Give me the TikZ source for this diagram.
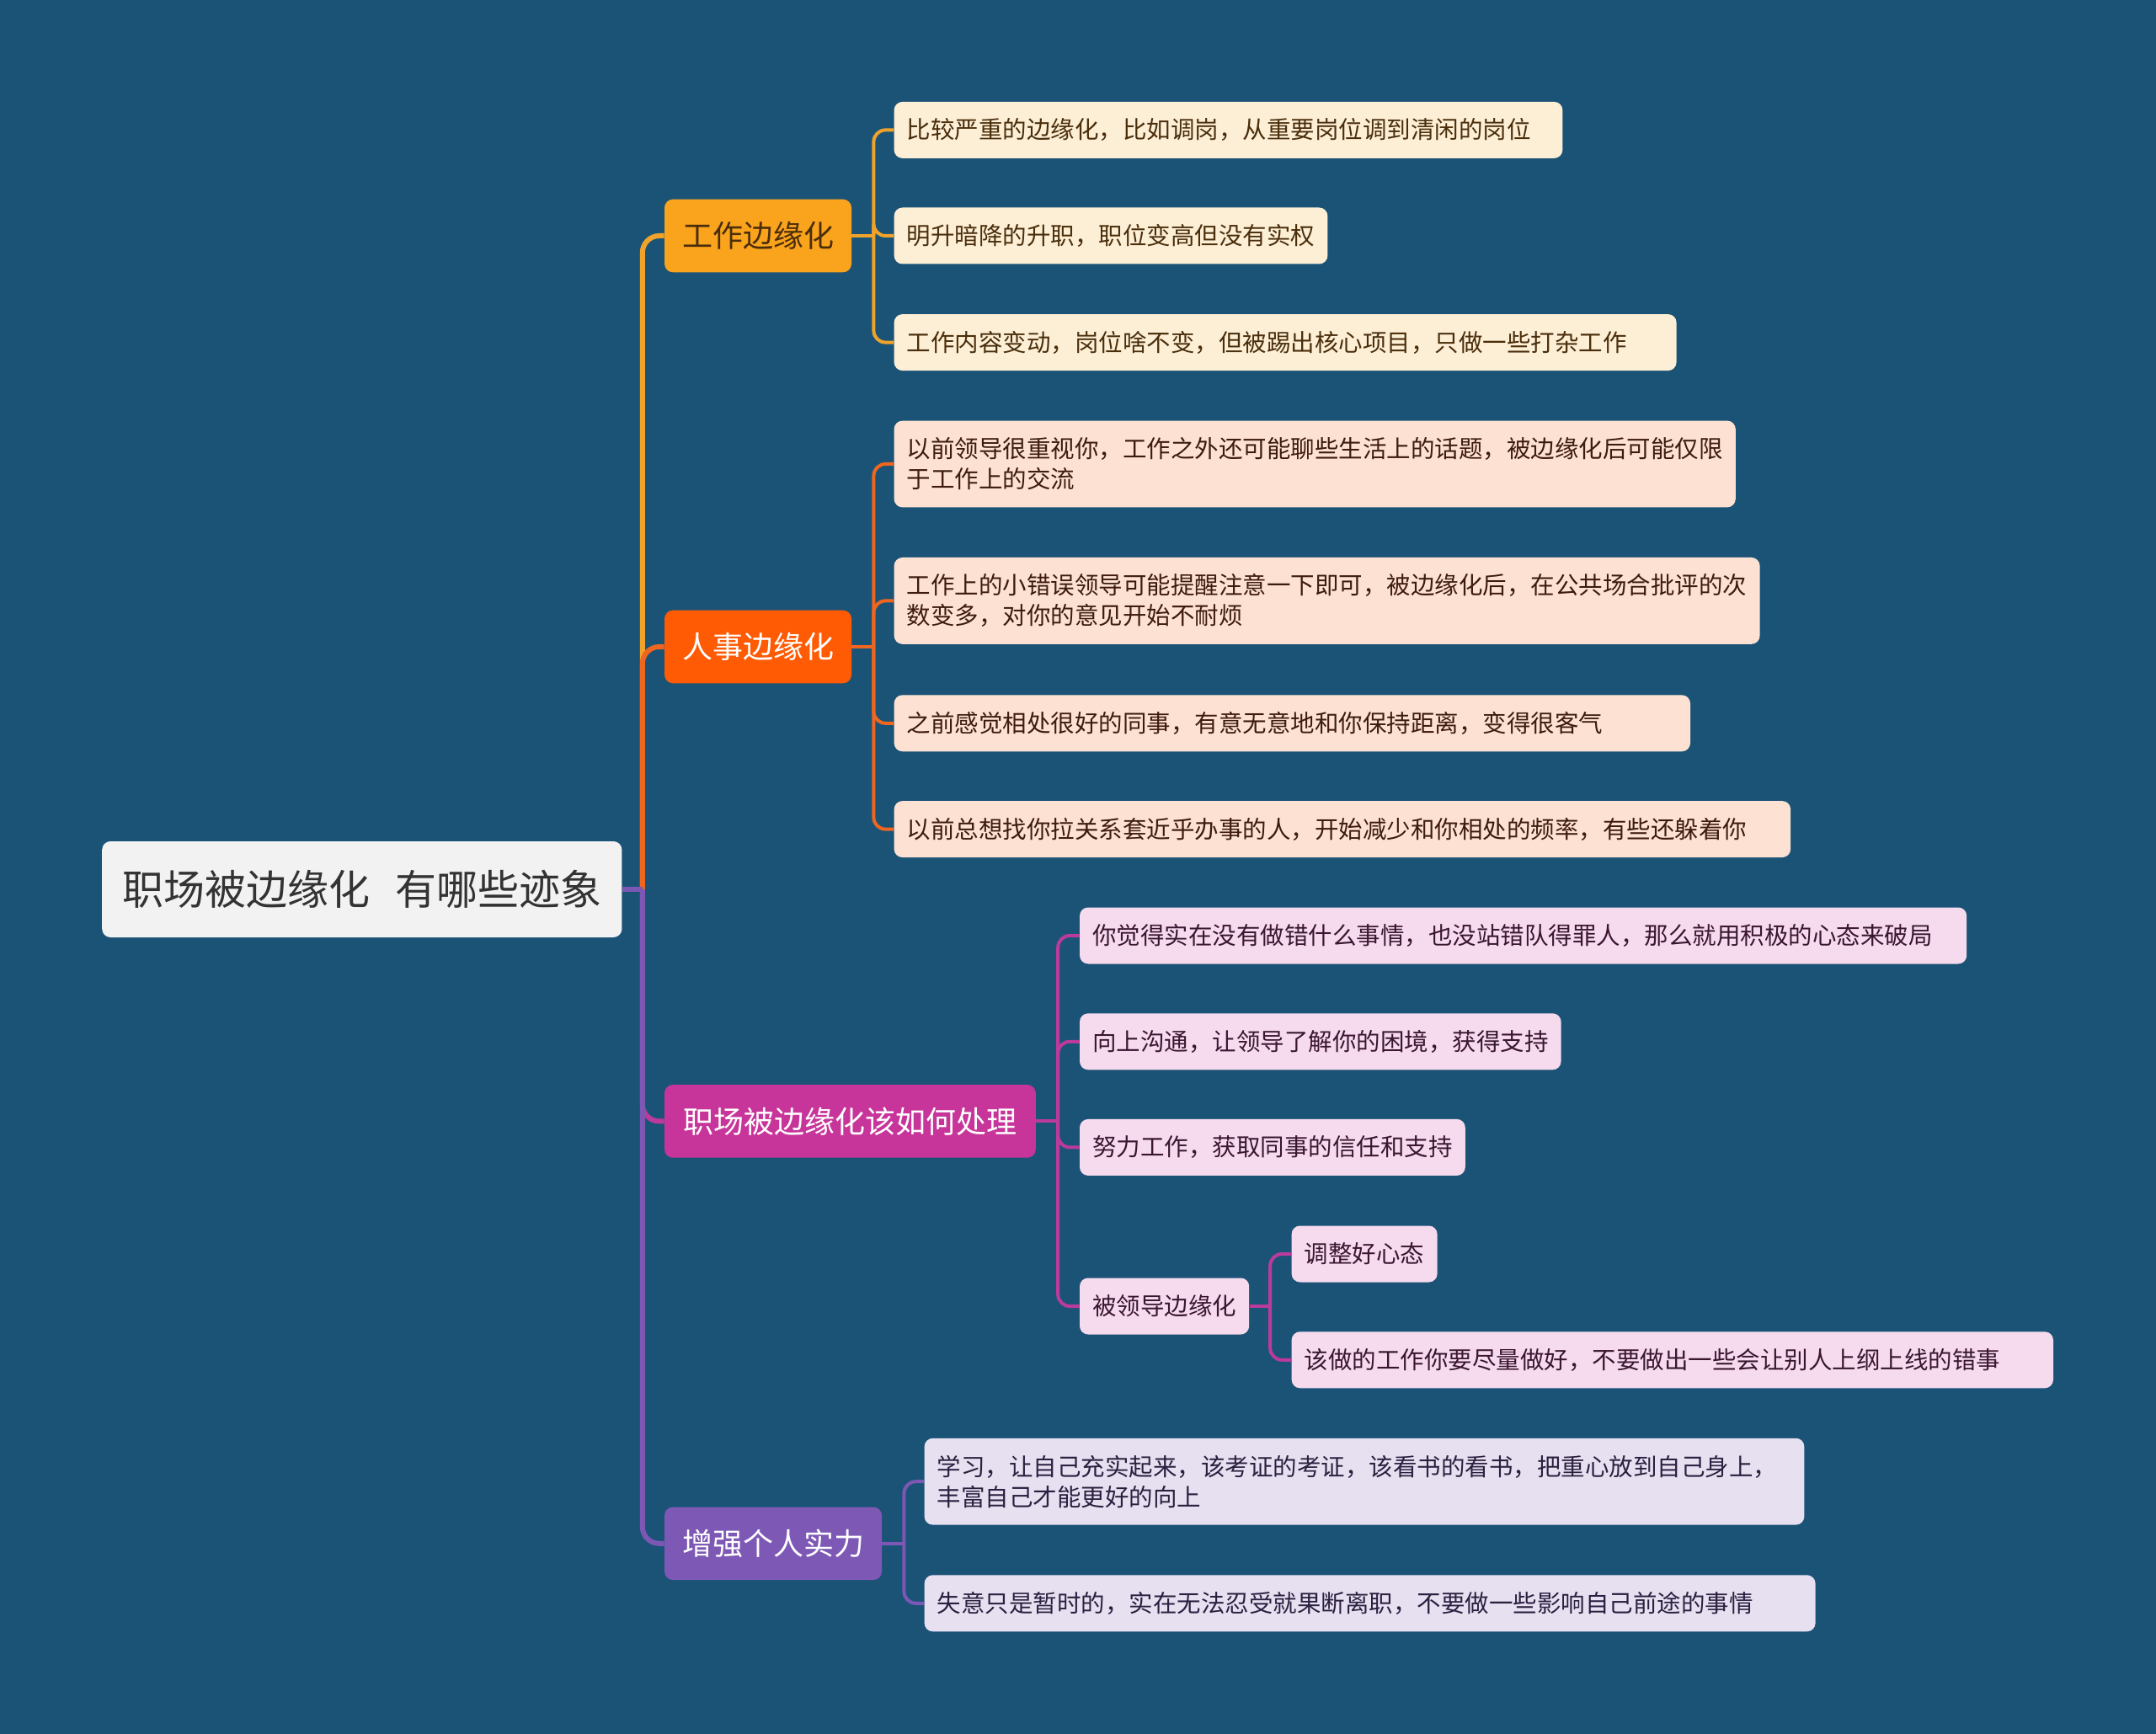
\documentclass[tikz,border=0pt]{standalone}
\usepackage{fontspec}
\setmainfont{Noto Sans CJK SC}
\usepackage{tikz}
\usetikzlibrary{positioning, calc}

\definecolor{bgblue}{HTML}{1B5377}
\definecolor{rootfill}{HTML}{F2F2F2}
\definecolor{roottext}{HTML}{333333}
\definecolor{workc}{HTML}{FAA31D}
\definecolor{workline}{HTML}{F0A32A}
\definecolor{workleaf}{HTML}{FDEFD6}
\definecolor{worktext}{HTML}{4A2E0C}
\definecolor{hrc}{HTML}{FE5B04}
\definecolor{hrline}{HTML}{EE6620}
\definecolor{hrleaf}{HTML}{FDE2D4}
\definecolor{hrtext}{HTML}{3E1B0E}
\definecolor{dealc}{HTML}{C8359A}
\definecolor{dealline}{HTML}{BB3A9C}
\definecolor{dealleaf}{HTML}{F6DBEE}
\definecolor{dealtext}{HTML}{3A1630}
\definecolor{growc}{HTML}{7E58B5}
\definecolor{growline}{HTML}{7D57B4}
\definecolor{growleaf}{HTML}{E7E0F0}
\definecolor{growtext}{HTML}{2B2040}

\begin{document}
\begin{tikzpicture}[x=1pt, y=-1pt,
    root/.style={fill=rootfill, text=roottext, rounded corners=5pt, minimum height=57pt, minimum width=308.6pt, anchor=west, font=\fontsize{24.5pt}{29pt}\selectfont},
    topic/.style={rounded corners=5pt, minimum height=43.3pt, inner xsep=10.5pt, anchor=west, font=\fontsize{18pt}{22pt}\selectfont},
    leaf/.style={rounded corners=5pt, minimum height=33.5pt, inner xsep=7.5pt, anchor=west, align=left, font=\fontsize{14.25pt}{18pt}\selectfont},
    twoline/.style={minimum height=51.4pt},
    wleaf/.style={leaf, fill=workleaf, text=worktext},
    hleaf/.style={leaf, fill=hrleaf, text=hrtext},
    dleaf/.style={leaf, fill=dealleaf, text=dealtext},
    gleaf/.style={leaf, fill=growleaf, text=growtext},
    trunk/.style={line width=3pt},
    twig/.style={line width=2pt, rounded corners=7pt}
]

% Hintergrund
\fill[bgblue] (0,0) rectangle (1280,1029.5);

% Knoten
\node[root] (root) at (60.4,528) {职场被边缘化\hspace{0.6em}有哪些迹象};

\node[topic, fill=workc, text=worktext] (work) at (394.3,140) {工作边缘化};
\node[topic, fill=hrc, text=white] (hr) at (394.3,384) {人事边缘化};
\node[topic, fill=dealc, text=white, minimum width=220.4pt] (deal) at (394.3,665.7) {职场被边缘化该如何处理};
\node[topic, fill=growc, text=white] (grow) at (394.3,916.4) {增强个人实力};

\node[wleaf, text width=381.9pt] (work1) at (530.6,77.2) {比较严重的边缘化，比如调岗，从重要岗位调到清闲的岗位};
\node[wleaf, text width=242.4pt] (work2) at (530.6,140) {明升暗降的升职，职位变高但没有实权};
\node[wleaf, text width=449.5pt] (work3) at (530.6,203.3) {工作内容变动，岗位啥不变，但被踢出核心项目，只做一些打杂工作};

\node[hleaf, twoline, text width=484.6pt] (hr1) at (530.6,275.5) {以前领导很重视你，工作之外还可能聊些生活上的话题，被边缘化后可能仅限\\于工作上的交流};
\node[hleaf, twoline, text width=499pt] (hr2) at (530.6,356.7) {工作上的小错误领导可能提醒注意一下即可，被边缘化后，在公共场合批评的次\\数变多，对你的意见开始不耐烦};
\node[hleaf, text width=457.7pt] (hr3) at (530.6,429.4) {之前感觉相处很好的同事，有意无意地和你保持距离，变得很客气};
\node[hleaf, text width=517.3pt] (hr4) at (530.6,492.3) {以前总想找你拉关系套近乎办事的人，开始减少和你相处的频率，有些还躲着你};

\node[dleaf, text width=511.6pt] (deal1) at (640.8,555.5) {你觉得实在没有做错什么事情，也没站错队得罪人，那么就用积极的心态来破局};
\node[dleaf, text width=270.8pt] (deal2) at (640.8,618.4) {向上沟通，让领导了解你的困境，获得支持};
\node[dleaf, text width=213.9pt] (deal3) at (640.8,681.2) {努力工作，获取同事的信任和支持};
\node[dleaf, text width=85.6pt] (deal4) at (640.8,775.5) {被领导边缘化};
\node[dleaf, text width=71.5pt] (mind1) at (766.6,744.5) {调整好心态};
\node[dleaf, text width=437.2pt] (mind2) at (766.6,807.4) {该做的工作你要尽量做好，不要做出一些会让别人上纲上线的错事};

\node[gleaf, twoline, text width=507.4pt] (grow1) at (548.6,879.6) {学习，让自己充实起来，该考证的考证，该看书的看书，把重心放到自己身上，\\丰富自己才能更好的向上};
\node[gleaf, text width=514pt] (grow2) at (548.6,951.9) {失意只是暂时的，实在无法忍受就果断离职，不要做一些影响自己前途的事情};

% Verbindungen
\coordinate (hub) at ([xshift=12pt] root.east);
\draw[trunk, workline] (root.east) -- (hub);
\draw[trunk, workline, rounded corners=10pt] (hub) |- (work.west);
\draw[trunk, hrline] (root.east) -- (hub);
\draw[trunk, hrline, rounded corners=10pt] (hub) |- (hr.west);
\draw[trunk, dealline] (root.east) -- (hub);
\draw[trunk, dealline, rounded corners=10pt] (hub) |- (deal.west);
\draw[trunk, growline] (root.east) -- (hub);
\draw[trunk, growline, rounded corners=10pt] (hub) |- (grow.west);

\coordinate (workhub) at ([xshift=13pt] work.east);
\draw[twig, workline] (work.east) -- (workhub);
\foreach \n in {work1,work2,work3}
    \draw[twig, workline] (workhub) |- (\n.west);

\coordinate (hrhub) at ([xshift=13pt] hr.east);
\draw[twig, hrline] (hr.east) -- (hrhub);
\foreach \n in {hr1,hr2,hr3,hr4}
    \draw[twig, hrline] (hrhub) |- (\n.west);

\coordinate (dealhub) at ([xshift=13pt] deal.east);
\draw[twig, dealline] (deal.east) -- (dealhub);
\foreach \n in {deal1,deal2,deal3,deal4}
    \draw[twig, dealline] (dealhub) |- (\n.west);

\coordinate (mindhub) at ([xshift=12.3pt] deal4.east);
\draw[twig, dealline] (deal4.east) -- (mindhub);
\foreach \n in {mind1,mind2}
    \draw[twig, dealline] (mindhub) |- (\n.west);

\coordinate (growhub) at ([xshift=13pt] grow.east);
\draw[twig, growline] (grow.east) -- (growhub);
\foreach \n in {grow1,grow2}
    \draw[twig, growline] (growhub) |- (\n.west);

\end{tikzpicture}
\end{document}
